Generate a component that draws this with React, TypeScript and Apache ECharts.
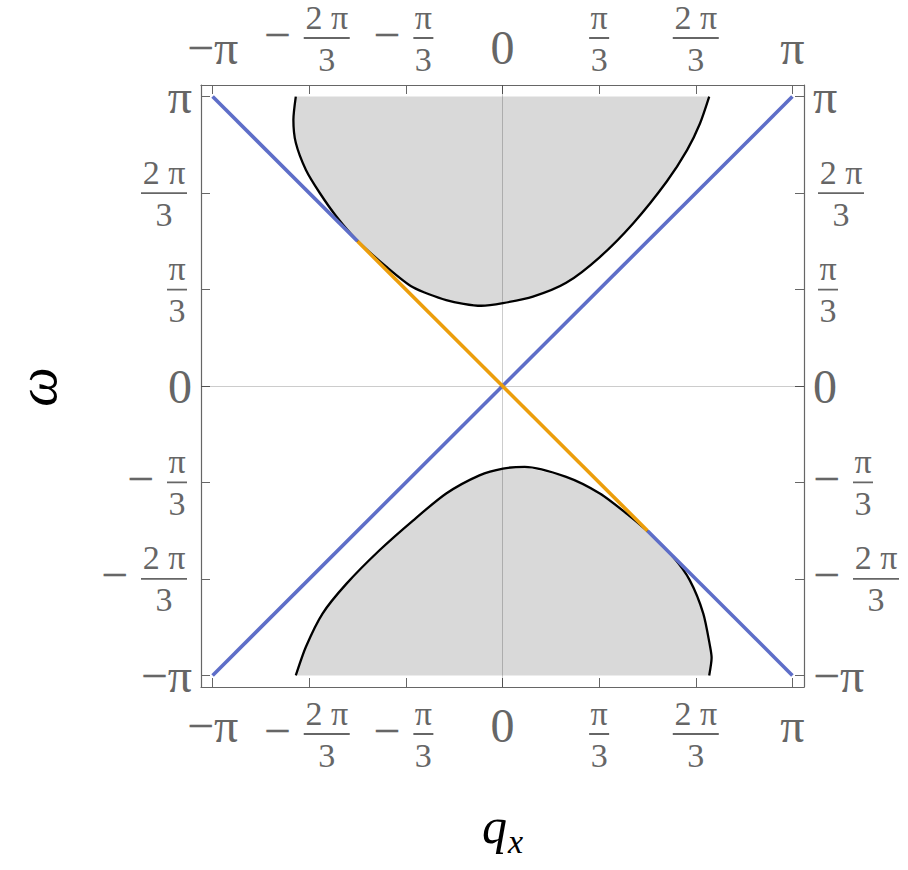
import React, { useEffect, useRef } from 'react';
import * as echarts from 'echarts';

const PI = Math.PI;
const AXIS_MIN = -1.04 * PI;
const AXIS_MAX = 1.04 * PI;

const tickValues = [-PI, (-2 * PI) / 3, -PI / 3, 0, PI / 3, (2 * PI) / 3, PI];
const tickLabels = ['−π', '−2π/3', '−π/3', '0', 'π/3', '2π/3', 'π'];
const xAxisTitle = 'q';
const xAxisTitleSub = 'x';
const yAxisTitle = 'ω';

// Boundary of the upper shaded region (q, ω), left to right
const upperBoundary: number[][] = [
  [-2.24, PI], [-2.266, 2.89], [-2.24, 2.64], [-2.13, 2.345], [-1.98, 2.095],
  [-1.8, 1.84], [-1.585, 1.59], [-1.26, 1.295], [-0.975, 1.074], [-0.61, 0.933],
  [-0.23, 0.871], [0.005, 0.9], [0.33, 0.97], [0.69, 1.12], [1.055, 1.4],
  [1.42, 1.77], [1.78, 2.22], [2.0, 2.56], [2.14, 2.85], [2.24, PI],
];
// Boundary of the lower shaded region (q, ω), left to right
const lowerBoundary: number[][] = [
  [-2.24, -PI], [-2.13, -2.83], [-1.95, -2.47], [-1.69, -2.145], [-1.33, -1.78],
  [-0.97, -1.46], [-0.61, -1.167], [-0.25, -0.97], [0.005, -0.896], [0.24, -0.878],
  [0.69, -0.987], [1.055, -1.167], [1.345, -1.385], [1.58, -1.585], [1.85, -1.857],
  [2.03, -2.11], [2.176, -2.47], [2.25, -2.83], [2.266, -2.95], [2.24, -PI],
];
// Light-cone lines
const lineOmegaEqQ = [[-PI, -PI], [PI, PI]];
const lineNegLeft = [[-PI, PI], [-PI / 2, PI / 2]];
const lineNegMid = [[-PI / 2, PI / 2], [PI / 2, -PI / 2]];
const lineNegRight = [[PI / 2, -PI / 2], [PI, -PI]];

const SERIF = '"Liberation Serif", "Times New Roman", serif';
const GRAY = '#666666';
const FRAME = '#666666';
const BLUE = '#5E6EC8';
const ORANGE = '#EC9E0C';
const FILL = '#d9d9d9';

const rich: any = {
  big: { fontSize: 48, lineHeight: 58, fontFamily: SERIF, color: GRAY, align: 'center' },
  mm: { fontSize: 48, lineHeight: 8, width: 27, fontFamily: SERIF, color: GRAY, align: 'center', padding: [0, 0, 8, 0] },
  msp: { width: 35, lineHeight: 8, align: 'center' },
  g: { width: 8, lineHeight: 8, align: 'center' },
  sp: { width: 5, lineHeight: 8, align: 'center' },
  n2: { fontSize: 34, lineHeight: 34, width: 46, fontFamily: SERIF, color: GRAY, align: 'center' },
  n1: { fontSize: 34, lineHeight: 34, width: 20, fontFamily: SERIF, color: GRAY, align: 'center' },
  h2: { width: 46, height: 0, lineHeight: 8, borderWidth: 1.8, borderColor: GRAY, align: 'center' },
  h1: { width: 20, height: 0, lineHeight: 8, borderWidth: 1.8, borderColor: GRAY, align: 'center' },
};

function formatTick(value: number): string {
  const idx = Math.round(value / (PI / 3)) + 3;
  const s = tickLabels[idx];
  if (s === undefined) return '';
  if (s.indexOf('/') < 0) return `{big|${s}}`;
  const neg = s.charAt(0) === '−';
  const body = neg ? s.slice(1) : s;
  const [num, den] = body.split('/');
  const w = num.length > 1 ? '2' : '1';
  const numText = num.replace(/(\d)π/, '$1 π');
  const l1 = (neg ? '{msp|}' : '') + `{sp|}{n${w}|${numText}}{sp|}`;
  const l2 = (neg ? '{mm|−}{g|}' : '') + `{sp|}{h${w}|}{sp|}`;
  const l3 = (neg ? '{msp|}' : '') + `{sp|}{n${w}|${den}}{sp|}`;
  return `${l1}\n${l2}\n${l3}`;
}

function makeAxis(extra: any) {
  return {
    type: 'value',
    min: AXIS_MIN,
    max: AXIS_MAX,
    axisLine: { show: true, onZero: false, lineStyle: { color: FRAME, width: 1.2 } },
    axisTick: { show: true, inside: true, length: 9, customValues: tickValues, lineStyle: { color: FRAME, width: 1 } },
    axisLabel: {
      show: true,
      customValues: tickValues,
      formatter: formatTick,
      rich,
      margin: 9,
      color: GRAY,
      fontFamily: SERIF,
      fontSize: 14,
      lineHeight: 8,
      showMinLabel: true,
      showMaxLabel: true,
      hideOverlap: false,
    },
    splitLine: { show: false },
    ...extra,
  };
}

function regionSeries(points: number[][]) {
  return {
    type: 'custom',
    coordinateSystem: 'cartesian2d',
    silent: true,
    z: 1,
    data: [[0, 0]],
    renderItem: (_params: any, api: any) => ({
      type: 'polygon',
      shape: { points: points.map((p) => api.coord(p)) },
      style: { fill: FILL },
    }),
  };
}

function lineSeries(data: number[][], color: string, width: number, z: number, smooth: number | boolean = false) {
  return {
    type: 'line',
    data,
    showSymbol: false,
    symbol: 'none',
    smooth,
    silent: true,
    z,
    lineStyle: { color, width, cap: 'butt', join: 'round' },
  };
}

export default function App() {
  const ref = useRef<HTMLDivElement>(null);
  useEffect(() => {
    document.body.style.margin = '0';
    const chart = echarts.init(ref.current as HTMLDivElement, undefined, { renderer: 'svg' });
    const option: any = {
      animation: false,
      backgroundColor: '#ffffff',
      grid: { left: 201, top: 85, width: 603, height: 602, containLabel: false },
      xAxis: [
        makeAxis({
          position: 'bottom',
          name: `{q|${xAxisTitle}}{s|${xAxisTitleSub}}`,
          nameLocation: 'middle',
          nameGap: 114,
          nameTextStyle: {
            rich: {
              q: { fontSize: 50, lineHeight: 50, fontStyle: 'italic', fontFamily: SERIF, color: '#000' },
              s: { fontSize: 34, lineHeight: 50, fontStyle: 'italic', fontFamily: SERIF, color: '#000', padding: [30, 0, 0, 1] },
            },
          },
        }),
        makeAxis({ position: 'top' }),
      ],
      yAxis: [makeAxis({ position: 'left' }), makeAxis({ position: 'right' })],
      graphic: [
        {
          type: 'text',
          x: 37,
          y: 387,
          rotation: PI / 2,
          silent: true,
          style: {
            text: yAxisTitle,
            fontSize: 56,
            fontStyle: 'italic',
            fontFamily: SERIF,
            fill: '#000',
            align: 'center',
            verticalAlign: 'middle',
          },
        },
      ],
      series: [
        regionSeries(upperBoundary),
        regionSeries(lowerBoundary),
        {
          type: 'line',
          data: [],
          z: 2,
          silent: true,
          markLine: {
            silent: true,
            symbol: ['none', 'none'],
            label: { show: false },
            lineStyle: { color: 'rgba(0,0,0,0.2)', width: 1, type: 'solid' },
            data: [{ xAxis: 0 }, { yAxis: 0 }],
          },
        },
        lineSeries(upperBoundary, '#000000', 2.3, 3, 0.25),
        lineSeries(lowerBoundary, '#000000', 2.3, 3, 0.25),
        lineSeries(lineOmegaEqQ, BLUE, 3.6, 4),
        lineSeries(lineNegLeft, BLUE, 3.6, 4),
        lineSeries(lineNegRight, BLUE, 3.6, 4),
        lineSeries(lineNegMid, ORANGE, 3.6, 5),
      ],
    };
    chart.setOption(option);
    return () => chart.dispose();
  }, []);
  return <div ref={ref} style={{ position: 'fixed', left: 0, top: 0, width: 908, height: 870 }} />;
}
